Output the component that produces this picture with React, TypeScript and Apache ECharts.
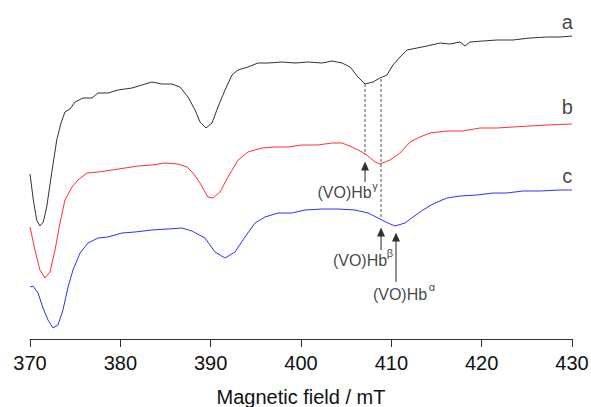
import React, { useEffect, useRef } from "react";
import * as echarts from "echarts";

// Magnetic field (mT) and intensity (arbitrary units) for each spectrum
const fieldA = [370.0, 370.37, 370.74, 371.1, 371.47, 371.85, 372.4, 372.96, 373.43, 373.87, 374.43, 374.98, 375.87, 376.86, 377.53, 378.63, 379.74, 381.29, 382.4, 383.5, 384.6, 385.72, 386.6, 387.49, 388.27, 388.82, 389.48, 390.15, 390.81, 391.59, 392.36, 393.03, 394.13, 395.24, 396.35, 397.9, 399.34, 400.78, 402.33, 403.43, 404.54, 405.43, 406.31, 407.09, 407.97, 408.75, 409.52, 410.18, 410.96, 411.73, 412.84, 413.95, 415.39, 416.49, 417.6, 418.15, 418.7, 420.14, 421.69, 423.46, 425.35, 427.23, 428.67, 430.0];
const intensityA = [165, 139, 119, 113, 117, 132, 166, 199, 216, 227, 230, 237, 241, 241, 246, 246, 249, 251, 254, 257, 255, 255, 252, 242, 229, 217, 211, 216, 232, 249, 264, 269, 272, 276, 276, 277, 276, 277, 276, 278, 276, 272, 262, 255, 257, 261, 264, 274, 282, 289, 291, 293, 296, 295, 297, 293, 297, 298, 299, 299, 301, 302, 302, 303];

const fieldB = [370.0, 370.55, 371.1, 371.66, 372.21, 372.77, 373.32, 373.87, 374.65, 375.31, 376.31, 377.53, 379.08, 380.52, 381.96, 383.5, 384.94, 386.38, 387.38, 388.04, 388.82, 389.37, 389.7, 390.26, 391.03, 391.92, 393.03, 394.13, 395.68, 397.12, 398.56, 400.11, 401.88, 403.43, 404.54, 405.65, 406.75, 407.42, 408.19, 408.75, 409.85, 410.96, 412.07, 413.17, 414.28, 416.16, 417.93, 419.82, 421.69, 423.46, 425.35, 427.23, 430.0];
const intensityB = [112, 89, 69, 61, 67, 89, 116, 139, 152, 159, 166, 167, 169, 171, 173, 174, 176, 175, 172, 166, 156, 147, 142, 141, 147, 162, 179, 187, 191, 192, 192, 194, 194, 196, 196, 192, 187, 183, 177, 175, 179, 186, 197, 202, 206, 208, 208, 211, 211, 212, 213, 214, 215];

const fieldC = [370.0, 370.33, 370.89, 371.44, 371.99, 372.55, 373.1, 373.65, 374.21, 374.76, 375.54, 376.42, 377.53, 378.63, 380.18, 381.62, 383.5, 385.28, 386.83, 387.93, 389.37, 390.48, 391.59, 392.69, 393.8, 394.91, 396.01, 397.45, 399.0, 400.44, 402.33, 404.1, 405.98, 407.42, 408.75, 409.63, 410.4, 411.51, 412.4, 413.5, 414.61, 416.16, 417.6, 419.48, 421.25, 422.8, 424.57, 426.45, 428.67, 430.0];
const intensityC = [52, 53, 46, 31, 19, 11, 14, 29, 52, 69, 86, 96, 101, 102, 106, 107, 109, 110, 111, 108, 101, 87, 81, 87, 102, 116, 122, 126, 126, 129, 130, 130, 129, 126, 120, 116, 113, 116, 122, 129, 135, 141, 143, 144, 146, 146, 148, 148, 149, 149];

const xTicks = [370, 380, 390, 400, 410, 420, 430];

// Peak positions (mT) for the three subunits
const peakFields = { gamma: 407.09, beta: 408.86, alpha: 410.52 };

const pairs = (xs: number[], ys: number[]) => xs.map((x, i) => [x, ys[i]]);

const FONT = "'Liberation Sans', Arial, sans-serif";

export default function App() {
  const ref = useRef<HTMLDivElement>(null);
  useEffect(() => {
    if (!ref.current) return;
    const chart = echarts.init(ref.current, undefined, { renderer: "svg" });
    const dashed = {
      type: "line",
      symbol: "none",
      silent: true,
      lineStyle: { color: "#555", width: 1, type: [3, 2] },
    };
    const shaft = {
      type: "line",
      symbol: "none",
      silent: true,
      lineStyle: { color: "#222", width: 1 },
    };
    const head = {
      type: "scatter",
      symbol: "triangle",
      symbolSize: [8, 9],
      silent: true,
      itemStyle: { color: "#000" },
    };
    const textSeries = (x: number, y: number, text: string, size: number) => ({
      type: "scatter",
      symbolSize: 0,
      silent: true,
      data: [[x, y]],
      label: {
        show: true,
        position: "inside",
        formatter: text,
        color: "#111",
        fontSize: size,
        fontFamily: FONT,
      },
    });
    chart.setOption({
      animation: false,
      backgroundColor: "#fff",
      grid: {
        left: 30,
        right: 19,
        top: 10,
        bottom: 68,
        containLabel: false,
        outerBoundsMode: "none",
      },
      xAxis: {
        type: "value",
        min: xTicks[0],
        max: xTicks[xTicks.length - 1],
        interval: 10,
        name: "Magnetic field / mT",
        nameLocation: "middle",
        nameGap: 48,
        nameTextStyle: { fontSize: 20, color: "#111", fontFamily: FONT },
        axisLine: { show: true, lineStyle: { color: "#333", width: 1 } },
        axisTick: { show: true, length: 8, lineStyle: { color: "#333" } },
        axisLabel: { fontSize: 20, color: "#111", margin: 14, fontFamily: FONT },
        splitLine: { show: false },
      },
      yAxis: {
        type: "value",
        min: 0,
        max: 329,
        show: false,
        splitLine: { show: false },
      },
      series: [
        { type: "line", symbol: "none", data: pairs(fieldA, intensityA), lineStyle: { color: "#333", width: 1 } },
        { type: "line", symbol: "none", data: pairs(fieldB, intensityB), lineStyle: { color: "#ff3030", width: 1 } },
        { type: "line", symbol: "none", data: pairs(fieldC, intensityC), lineStyle: { color: "#3030ff", width: 1 } },
        { ...dashed, data: [[peakFields.gamma, 255], [peakFields.gamma, 184]] },
        { ...dashed, data: [[peakFields.beta, 260], [peakFields.beta, 122]] },
        { ...shaft, data: [[peakFields.gamma, 172], [peakFields.gamma, 157]] },
        { ...shaft, data: [[peakFields.beta, 106], [peakFields.beta, 89]] },
        { ...shaft, data: [[peakFields.alpha, 101], [peakFields.alpha, 57]] },
        { ...head, data: [[peakFields.gamma, 173], [peakFields.beta, 107], [peakFields.alpha, 102]] },
        textSeries(404.82, 147, "(VO)Hb", 16),
        textSeries(408.19, 153, "γ", 11),
        textSeries(406.53, 79, "(VO)Hb", 16),
        textSeries(409.85, 86, "β", 11),
        textSeries(410.96, 45, "(VO)Hb", 16),
        textSeries(414.5, 52, "α", 11),
        textSeries(429.48, 317, "a", 20),
        textSeries(429.48, 232, "b", 20),
        textSeries(429.48, 163, "c", 20),
      ],
    });
    return () => chart.dispose();
  }, []);
  return (
    <div
      ref={ref}
      style={{ position: "fixed", left: 0, top: 0, width: 591, height: 407 }}
    />
  );
}
